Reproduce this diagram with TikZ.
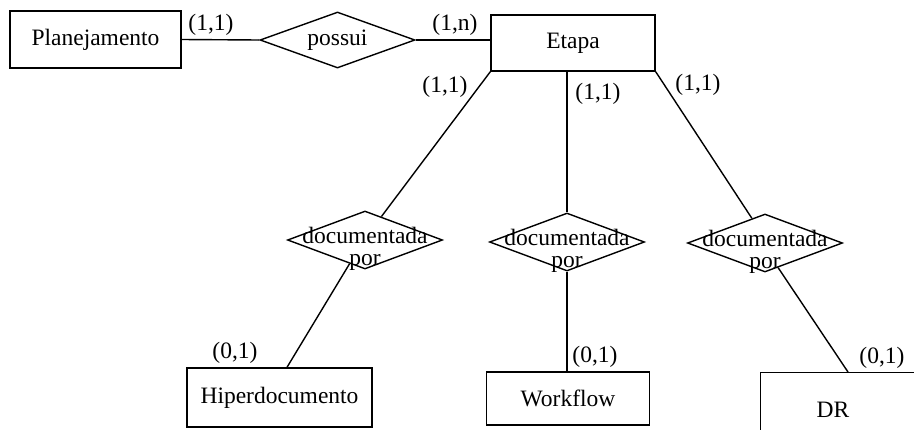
\documentclass[tikz,border=0pt]{standalone}
\usepackage{fontspec}
\setmainfont{Liberation Serif}
\usetikzlibrary{shapes.geometric}
\begin{document}
\begin{tikzpicture}[x=1pt,y=-1pt,
  every node/.style={font=\fontsize{23.5pt}{22pt}\selectfont, inner sep=0pt},
  entity/.style={draw, rectangle, line width=1.4pt},
  relation/.style={draw, diamond, minimum width=155pt, minimum height=58pt, line width=1.4pt},
  reltext/.style={align=center},
  link/.style={line width=1.4pt}]
\useasboundingbox (0,0) rectangle (914,429);
\clip (0,0) rectangle (914,429);

% entities
\node[entity, minimum width=171pt, minimum height=57pt] (plan) at (95.5,39.5) {Planejamento};
\node[entity, minimum width=164pt, minimum height=56pt] (etapa) at (573,43) {Etapa};
\node[entity, minimum width=185pt, minimum height=59pt] (hiper) at (279.5,397.5) {Hiperdocumento};
\node[entity, minimum width=163pt, minimum height=53pt] (work) at (568,398.5) {Workflow};
\node[entity, minimum width=180pt, minimum height=75pt, anchor=north west] (dr) at (760,372) {};
\node (drtext) at (833,410) {DR};

% relationships
\node[draw, diamond, minimum width=155pt, minimum height=56pt, line width=1.4pt] (possui) at (337.5,40) {};
\node (possuitext) at (337.5,40) {possui};
\node[relation] (d1) at (365,240) {};
\node[relation] (d2) at (567,242) {};
\node[relation] (d3) at (765,243) {};
\node[reltext] (d1t) at (365,249) {documentada\\por};
\node[reltext] (d2t) at (567,251) {documentada\\por};
\node[reltext] (d3t) at (765,252) {documentada\\por};

% connectors
\draw[link] (plan.east) -- (possui.west);
\draw[link] (possui.east) -- (etapa.west |- possui.east);
\draw[link] (etapa.south west) -- (d1.55);
\draw[link] (etapa.south -| d2.north) -- (d2.north);
\draw[link] (etapa.south east) -- (d3.118);
\draw[link] (d1.237) -- ([xshift=7.5pt]hiper.north);
\draw[link] (d2.south) -- (work.north -| d2.south);
\draw[link] (d3.-62) -- (dr.north west -| 848,0);

% cardinalities
\node (c1) at (211,25) {(1,1)};
\node (c2) at (455,25) {(1,n)};
\node (c3) at (445,87) {(1,1)};
\node (c4) at (598,94) {(1,1)};
\node (c5) at (698,85) {(1,1)};
\node (c6) at (235,353) {(0,1)};
\node (c7) at (595,357) {(0,1)};
\node (c8) at (882,358) {(0,1)};
\end{tikzpicture}
\end{document}
